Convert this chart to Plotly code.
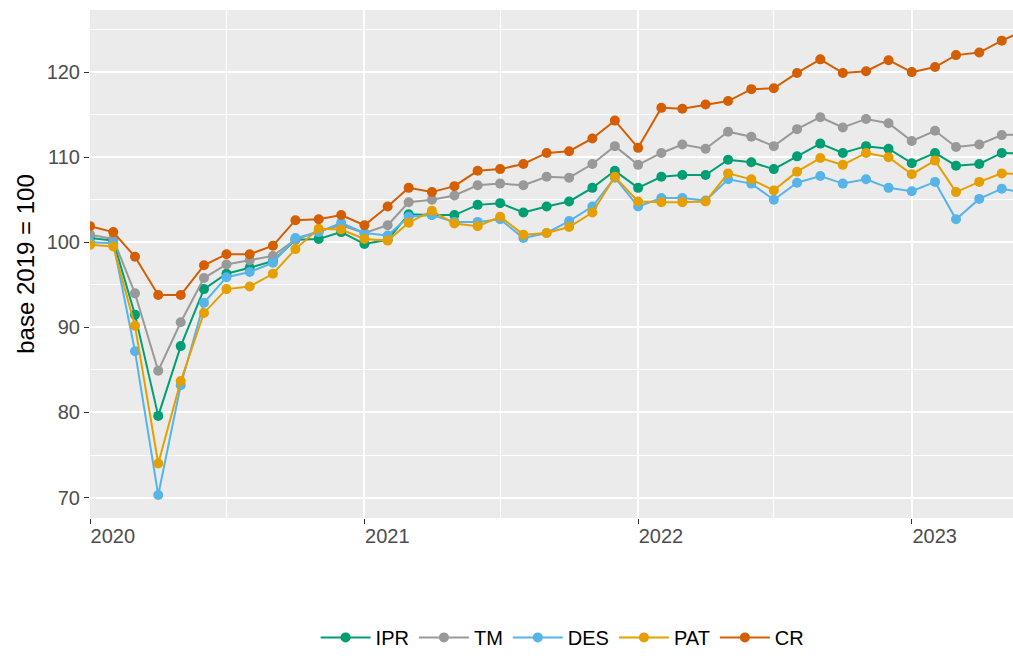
import pandas as pd
import plotly.graph_objects as go

# monthly index, base 2019 = 100
months = pd.date_range("2020-01-01", "2023-06-01", freq="MS")

ipr = [100.5, 100.2, 91.5, 79.6, 87.8, 94.5, 96.3, 97.0, 97.8, 100.3, 100.4, 101.2,
       99.8, 100.3, 103.3, 103.2, 103.2, 104.4, 104.6, 103.5, 104.2, 104.8, 106.4, 108.4,
       106.4, 107.7, 107.9, 107.9, 109.7, 109.4, 108.6, 110.1, 111.6, 110.5, 111.3, 111.0,
       109.3, 110.5, 109.0, 109.2, 110.5, 110.4]
tm = [100.9, 100.4, 94.0, 84.9, 90.6, 95.8, 97.4, 97.9, 98.4, 100.3, 101.3, 102.0,
      101.1, 102.0, 104.7, 105.0, 105.5, 106.7, 106.9, 106.7, 107.7, 107.6, 109.2, 111.3,
      109.1, 110.5, 111.5, 111.0, 113.0, 112.4, 111.3, 113.3, 114.7, 113.5, 114.5, 114.0,
      111.9, 113.1, 111.2, 111.5, 112.6, 112.7]
des = [100.0, 99.9, 87.2, 70.3, 83.2, 92.9, 95.9, 96.5, 97.6, 100.5, 101.2, 102.3,
       101.1, 100.8, 103.0, 103.2, 102.4, 102.4, 102.7, 100.5, 101.1, 102.5, 104.2, 107.6,
       104.2, 105.2, 105.2, 104.9, 107.4, 106.9, 105.0, 107.0, 107.8, 106.9, 107.4, 106.4,
       106.0, 107.1, 102.7, 105.1, 106.3, 105.8]
pat = [99.7, 99.5, 90.2, 74.0, 83.7, 91.7, 94.5, 94.8, 96.3, 99.2, 101.6, 101.5,
       100.4, 100.2, 102.3, 103.7, 102.2, 101.9, 103.0, 100.9, 101.1, 101.8, 103.5, 107.7,
       104.8, 104.7, 104.7, 104.8, 108.1, 107.4, 106.1, 108.3, 109.9, 109.1, 110.5, 110.0,
       108.0, 109.6, 105.9, 107.1, 108.1, 108.0]
cr = [101.9, 101.2, 98.3, 93.8, 93.8, 97.3, 98.6, 98.6, 99.6, 102.6, 102.7, 103.2,
      102.0, 104.2, 106.4, 105.9, 106.6, 108.4, 108.6, 109.2, 110.5, 110.7, 112.2, 114.3,
      111.1, 115.8, 115.7, 116.2, 116.6, 118.0, 118.1, 119.9, 121.5, 119.9, 120.1, 121.4,
      120.0, 120.6, 122.0, 122.3, 123.7, 124.9]

series = [
    ("IPR", ipr, "#009E73"),
    ("TM", tm, "#999999"),
    ("DES", des, "#56B4E9"),
    ("PAT", pat, "#E69F00"),
    ("CR", cr, "#D55E00"),
]

fig = go.Figure()
for name, vals, col in series:
    fig.add_trace(go.Scatter(
        x=months, y=vals, name=name, mode="lines+markers",
        line=dict(color=col, width=2),
        marker=dict(color=col, size=10),
    ))

fig.update_layout(
    width=1013, height=656,
    paper_bgcolor="white",
    plot_bgcolor="#EBEBEB",
    font=dict(family="Liberation Sans, Arial, sans-serif", size=18, color="#4D4D4D"),
    margin=dict(l=90, r=0, t=10, b=138, autoexpand=False),
    legend=dict(
        orientation="h", x=0.512, xanchor="center", y=-0.235, yanchor="middle",
        font=dict(size=20, color="black"), itemwidth=50,
    ),
    showlegend=True,
)

fig.update_xaxes(
    range=["2020-01-01", "2023-05-16"],
    tickvals=["2020-01-01", "2021-01-01", "2022-01-01", "2023-01-01"],
    ticktext=["2020", "2021", "2022", "2023"],
    ticklabelposition="outside right",
    ticks="outside", ticklen=5, tickcolor="#333333", tickwidth=1.2,
    showgrid=True, gridcolor="white", gridwidth=2,
    minor=dict(tickvals=["2020-07-01", "2021-07-01", "2022-07-01"],
               showgrid=True, gridcolor="white", gridwidth=1, ticks=""),
    zeroline=False, showline=False, automargin=False,
    tickfont=dict(size=20, color="#4D4D4D"),
)
fig.update_yaxes(
    range=[67.6, 127.3],
    tickvals=[70, 80, 90, 100, 110, 120],
    ticks="outside", ticklen=5, tickcolor="#333333", tickwidth=1.2,
    showgrid=True, gridcolor="white", gridwidth=2,
    minor=dict(tickvals=[75, 85, 95, 105, 115, 125],
               showgrid=True, gridcolor="white", gridwidth=1, ticks=""),
    zeroline=False, showline=False, automargin=False,
    title=dict(text="base 2019 = 100", font=dict(size=24, color="black"), standoff=5),
    tickfont=dict(size=20, color="#4D4D4D"),
)

fig.write_html("out.html", config={"displayModeBar": False},
               post_script="document.body.style.margin='0';")
